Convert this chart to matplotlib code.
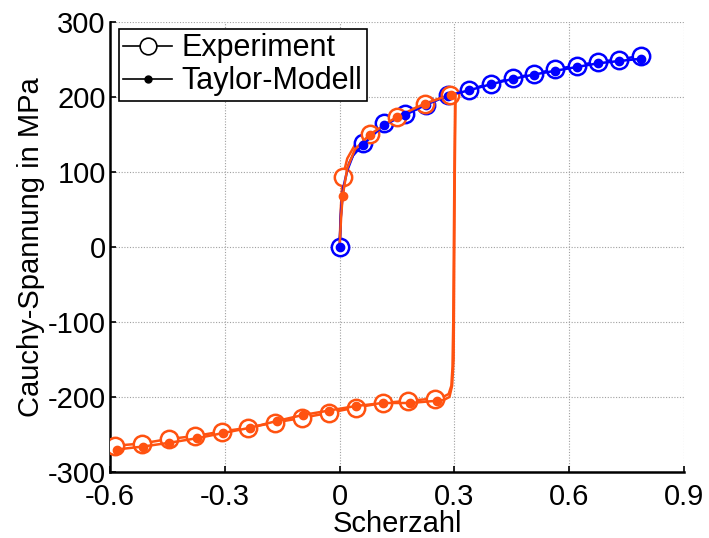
import matplotlib
matplotlib.use("Agg")
import matplotlib.pyplot as plt
from matplotlib.lines import Line2D

plt.rcParams['font.family'] = ['Liberation Sans', 'DejaVu Sans']

BLUE = '#0000ff'
ORANGE = '#ff5210'

# ---- Data ----
# Blue: monotonic forward shear
blue_exp_x = [0, 0.060, 0.116, 0.171, 0.227, 0.284, 0.339, 0.395, 0.452, 0.508, 0.564, 0.620, 0.676, 0.731, 0.787]
blue_exp_y = [0, 139, 165, 177, 190, 203, 210, 218, 225, 231, 237, 242, 247, 250, 255]
blue_mod_x = [0, 0.060, 0.116, 0.171, 0.227, 0.284, 0.339, 0.395, 0.452, 0.508, 0.564, 0.620, 0.676, 0.731, 0.787]
blue_mod_y = [0, 136, 163, 176, 190, 202, 209, 217, 224, 230, 235, 240, 245, 248, 251]
# Blue curves (vertices of the drawn lines)
blue_exp_line_x = [0, 0.003, 0.008, 0.015, 0.025, 0.040, 0.060, 0.116, 0.171, 0.227, 0.284, 0.339, 0.395, 0.452, 0.508, 0.564, 0.620, 0.676, 0.731, 0.787]
blue_exp_line_y = [0, 40, 70, 95, 112, 127, 139, 165, 177, 190, 203, 210, 218, 225, 231, 237, 242, 247, 250, 255]
blue_mod_line_x = [0, 0.004, 0.010, 0.020, 0.035, 0.060, 0.116, 0.171, 0.227, 0.284, 0.339, 0.395, 0.452, 0.508, 0.564, 0.620, 0.676, 0.731, 0.787]
blue_mod_line_y = [0, 50, 80, 102, 122, 136, 163, 176, 190, 202, 209, 217, 224, 230, 235, 240, 245, 248, 251]

# Orange: forward then reverse shear
orange_exp_x = [0.008, 0.079, 0.149, 0.222, 0.289,
                0.249, 0.180, 0.113, 0.043, -0.027, -0.099, -0.169, -0.239, -0.308, -0.377, -0.447, -0.517, -0.587]
orange_exp_y = [93, 151, 174, 191, 203,
                -202, -205, -208, -214, -221, -228, -234, -241, -246, -252, -256, -262, -265]
orange_mod_x = [0.008, 0.079, 0.151, 0.222, 0.290,
                0.254, 0.184, 0.113, 0.043, -0.027, -0.096, -0.164, -0.234, -0.304, -0.373, -0.445, -0.513, -0.583]
orange_mod_y = [68, 150, 174, 191, 203,
                -205, -208, -208, -212, -218, -224, -232, -241, -248, -255, -261, -266, -270]
# Orange curves (vertices of the drawn lines)
orange_exp_line_x = [0, 0.003, 0.008, 0.020, 0.040, 0.079, 0.149, 0.222, 0.289, 0.302,
                     0.300, 0.297, 0.295, 0.292, 0.285, 0.270,
                     0.249, 0.180, 0.113, 0.043, -0.027, -0.099, -0.169, -0.239, -0.308, -0.377, -0.447, -0.517, -0.587]
orange_exp_line_y = [0, 50, 93, 118, 136, 151, 174, 191, 203, 205,
                     100, -100, -160, -185, -196, -200,
                     -202, -205, -208, -214, -221, -228, -234, -241, -246, -252, -256, -262, -265]
orange_mod_line_x = [0, 0.004, 0.008, 0.020, 0.040, 0.079, 0.151, 0.222, 0.290, 0.303,
                     0.301, 0.298, 0.294, 0.287, 0.272,
                     0.254, 0.184, 0.113, 0.043, -0.027, -0.096, -0.164, -0.234, -0.304, -0.373, -0.445, -0.513, -0.583]
orange_mod_line_y = [0, 40, 68, 105, 130, 150, 174, 191, 203, 204,
                     100, -150, -185, -200, -204,
                     -205, -208, -208, -212, -218, -224, -232, -241, -248, -255, -261, -266, -270]

x_ticks = [-0.6, -0.3, 0, 0.3, 0.6, 0.9]
x_ticklabels = ['-0.6', '-0.3', '0', '0.3', '0.6', '0.9']
y_ticks = [-300, -200, -100, 0, 100, 200, 300]
y_ticklabels = ['-300', '-200', '-100', '0', '100', '200', '300']

fig = plt.figure(figsize=(7.09, 5.38), dpi=100)
ax = fig.add_axes([110/709, 1-472/538, 574/709, 450/538])

LW = 1.8
CIRC = dict(marker='o', markersize=12.5, markerfacecolor='white', markeredgewidth=1.8, linestyle='none')
DOT = dict(marker='o', markersize=6, linestyle='none')

for (lx, ly, ex, ey, mlx, mly, mx, my, c) in [
        (blue_exp_line_x, blue_exp_line_y, blue_exp_x, blue_exp_y,
         blue_mod_line_x, blue_mod_line_y, blue_mod_x, blue_mod_y, BLUE),
        (orange_exp_line_x, orange_exp_line_y, orange_exp_x, orange_exp_y,
         orange_mod_line_x, orange_mod_line_y, orange_mod_x, orange_mod_y, ORANGE)]:
    ax.plot(lx, ly, color=c, lw=LW, zorder=3)
    ax.plot(ex, ey, color=c, markeredgecolor=c, zorder=4, **CIRC)
    ax.plot(mlx, mly, color=c, lw=LW, zorder=5)
    ax.plot(mx, my, color=c, markeredgecolor=c, markerfacecolor=c, zorder=6, **DOT)

ax.set_xlim(-0.6, 0.9)
ax.set_ylim(-300, 300)
ax.set_xticks(x_ticks)
ax.set_xticklabels(x_ticklabels)
ax.set_yticks(y_ticks)
ax.set_yticklabels(y_ticklabels)
ax.tick_params(direction='in', length=4, width=1.2, labelsize=21)
ax.tick_params(axis='x', pad=8)
ax.tick_params(axis='y', pad=3)
ax.grid(True, linestyle=(0, (1, 1.5)), color='#a0a0a0', linewidth=0.8)
ax.set_axisbelow(True)
for s in ['top', 'right']:
    ax.spines[s].set_visible(False)
for s in ['left', 'bottom']:
    ax.spines[s].set_linewidth(1.8)

ax.set_xlabel('Scherzahl', fontsize=21, labelpad=-1)
ax.set_ylabel('Cauchy-Spannung in MPa', fontsize=21, labelpad=2)

handles = [Line2D([], [], color='black', lw=1.2, marker='o', markersize=12,
                  markerfacecolor='white', markeredgecolor='black', markeredgewidth=1.2),
           Line2D([], [], color='black', lw=1.2, marker='o', markersize=5,
                  markerfacecolor='black', markeredgecolor='black')]
leg = ax.legend(handles, ['Experiment', 'Taylor-Modell'], loc='upper left',
                bbox_to_anchor=(0.015, 0.985), fontsize=22, frameon=True, fancybox=False,
                edgecolor='black', framealpha=1, handlelength=1.6, handletextpad=0.3,
                borderpad=0.15, labelspacing=0.1, borderaxespad=0)
leg.get_frame().set_linewidth(1.2)

fig.savefig('out.png', dpi=100)
